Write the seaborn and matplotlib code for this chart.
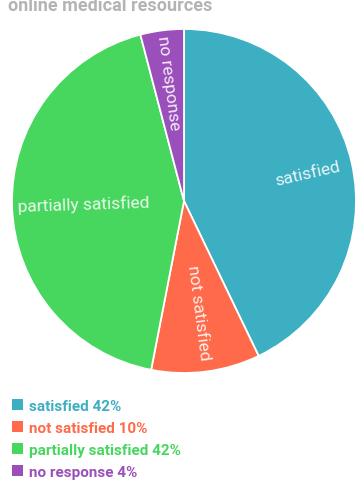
import matplotlib
matplotlib.use("Agg")
import matplotlib.pyplot as plt
from matplotlib.patches import Patch
import numpy as np
import seaborn as sns

# Survey answers and their shares (percent)
categories = ["satisfied", "not satisfied", "partially satisfied", "no response"]
shares = [42, 10, 42, 4]
colors = ["#3DAFC2", "#FF6A4B", "#47D65E", "#9A4FBA"]
title = "online medical resources"

sns.set_theme(style="white")
plt.rcParams["font.family"] = ["Roboto", "DejaVu Sans"]
palette = sns.color_palette(colors)

W, H, DPI = 356, 481, 100
fig = plt.figure(figsize=(W / DPI, H / DPI), dpi=DPI)

# Pie axes placed in pixel terms: centre (184, 202), radius 172
cx, cy, r = 184, 202, 172
ax = fig.add_axes([(cx - r) / W, (H - cy - r) / H, 2 * r / W, 2 * r / H])
wedges, _ = ax.pie(
    shares,
    colors=palette,
    startangle=90,
    counterclock=False,
    radius=1.0,
    wedgeprops=dict(edgecolor="white", linewidth=1.3),
)
ax.set_xlim(-1, 1)
ax.set_ylim(-1, 1)
ax.set_aspect("equal")
ax.axis("off")

# Radial labels, anchored near the rim and kept upright
for w, name in zip(wedges, categories):
    mid = np.deg2rad((w.theta1 + w.theta2) / 2)
    ang = np.rad2deg(mid)
    ang = (ang + 180) % 360 - 180
    if -90 <= ang <= 90:
        rot, ha, rr = ang, "right", 0.93
    else:
        rot, ha, rr = ang - 180 if ang > 0 else ang + 180, "left", 0.97
    ax.text(rr * np.cos(mid), rr * np.sin(mid), name,
            rotation=rot, rotation_mode="anchor", ha=ha, va="center",
            color="white", alpha=0.88, fontsize=12.5)

# Title, running off the top edge
fig.text(8 / W, 1 - 11 / H, title, ha="left", va="baseline",
         fontsize=13, color="#b4b4b4", fontweight="bold")

# Legend below the pie
handles = [Patch(facecolor=c, edgecolor="none") for c in palette]
labels = [f"{n} {v}%" for n, v in zip(categories, shares)]
leg = fig.legend(handles, labels, loc="upper left",
                 bbox_to_anchor=(12 / W, 1 - 400 / H),
                 frameon=False, handlelength=0.72, handleheight=0.72,
                 handletextpad=0.4, labelspacing=0.52,
                 prop=dict(family="Roboto", weight="bold", size=11),
                 borderaxespad=0, borderpad=0)
for t, c in zip(leg.get_texts(), palette):
    t.set_color(c)

fig.savefig("out.png", dpi=DPI)
